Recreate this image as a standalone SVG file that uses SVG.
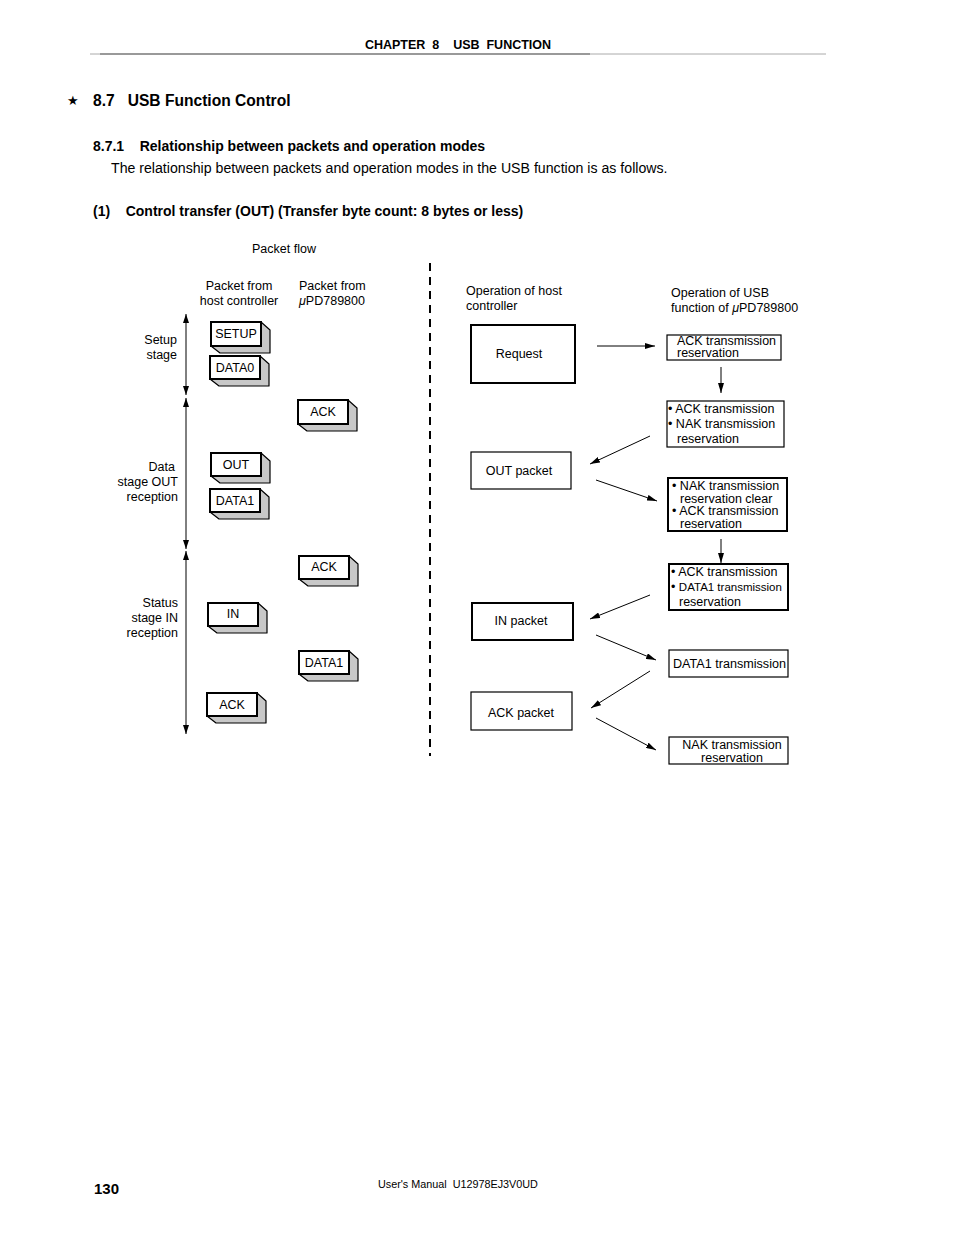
<svg xmlns="http://www.w3.org/2000/svg" width="954" height="1235" viewBox="0 0 954 1235">
<defs>
<style>
text{font-family:"Liberation Sans",Arial,sans-serif;fill:#000;white-space:pre}
.t{font-size:12.5px}
.b{font-weight:bold}
.front{fill:#fff;stroke:#000;stroke-width:2}
.side{fill:#c8c8c8;stroke:#000;stroke-width:1.2;stroke-linejoin:round}
.box{fill:#fff;stroke:#000;stroke-width:1.2}
.thick{fill:#fff;stroke:#000;stroke-width:2}
.ln{stroke:#000;stroke-width:1;fill:none}
</style>
<marker id="ah" viewBox="0 0 10 6" refX="10" refY="3" markerWidth="10" markerHeight="6" markerUnits="userSpaceOnUse" orient="auto">
<path d="M0,0 L10,3 L0,6 Z" fill="#000"/>
</marker>
<marker id="vh" viewBox="0 0 9 6" refX="9" refY="3" markerWidth="9" markerHeight="6" markerUnits="userSpaceOnUse" orient="auto-start-reverse">
<path d="M0,0 L9,3 L0,6 Z" fill="#000"/>
</marker>
</defs>
<rect width="954" height="1235" fill="#fff"/>

<!-- header -->
<text x="458" y="49" text-anchor="middle" class="b" font-size="12.5" xml:space="preserve">CHAPTER  8    USB  FUNCTION</text>
<line x1="90" y1="54" x2="826" y2="54" stroke="#aaa" stroke-width="1"/>
<line x1="100" y1="54" x2="590" y2="54" stroke="#999" stroke-width="2"/>

<text x="67" y="105" font-size="13">★</text>
<text x="93" y="106" class="b" font-size="15.6" xml:space="preserve">8.7   USB Function Control</text>
<text x="93" y="151" class="b" font-size="14" xml:space="preserve">8.7.1    Relationship between packets and operation modes</text>
<text x="111" y="173" font-size="14.15">The relationship between packets and operation modes in the USB function is as follows.</text>
<text x="93" y="216" class="b" font-size="14" xml:space="preserve">(1)    Control transfer (OUT) (Transfer byte count: 8 bytes or less)</text>

<!-- column labels -->
<g id="labels" class="t">
<text x="284" y="253" text-anchor="middle" class="t">Packet flow</text>
<text x="239" y="290" text-anchor="middle" class="t">Packet from</text>
<text x="239" y="305" text-anchor="middle" class="t">host controller</text>
<text x="299" y="290" class="t">Packet from</text>
<text x="299" y="305" class="t"><tspan font-style="italic">μ</tspan>PD789800</text>
<text x="177" y="344" text-anchor="end" class="t">Setup</text>
<text x="177" y="359" text-anchor="end" class="t">stage</text>
<text x="175" y="471" text-anchor="end" class="t">Data</text>
<text x="178" y="486" text-anchor="end" class="t">stage OUT</text>
<text x="178" y="501" text-anchor="end" class="t">reception</text>
<text x="178" y="607" text-anchor="end" class="t">Status</text>
<text x="178" y="622" text-anchor="end" class="t">stage IN</text>
<text x="178" y="637" text-anchor="end" class="t">reception</text>
<text x="466" y="295" class="t">Operation of host</text>
<text x="466" y="310" class="t">controller</text>
<text x="671" y="297" class="t">Operation of USB</text>
<text x="671" y="312" class="t">function of <tspan font-style="italic">μ</tspan>PD789800</text>
</g>

<!-- stage arrows and divider -->
<g id="connectors">
<line class="ln" x1="186" y1="314" x2="186" y2="395" marker-start="url(#vh)" marker-end="url(#vh)"/>
<line class="ln" x1="186" y1="398" x2="186" y2="549" marker-start="url(#vh)" marker-end="url(#vh)"/>
<line class="ln" x1="186" y1="551" x2="186" y2="734" marker-start="url(#vh)" marker-end="url(#vh)"/>
<line x1="430" y1="263" x2="430" y2="756" stroke="#000" stroke-width="2" stroke-dasharray="8,6"/>

<line class="ln" x1="597" y1="346" x2="655" y2="346" marker-end="url(#ah)"/>
<line class="ln" x1="721" y1="367" x2="721" y2="393" marker-end="url(#ah)"/>
<line class="ln" x1="650" y1="436" x2="590" y2="464" marker-end="url(#ah)"/>
<line class="ln" x1="596" y1="480" x2="657" y2="501" marker-end="url(#ah)"/>
<line class="ln" x1="721" y1="539" x2="721" y2="563" marker-end="url(#ah)"/>
<line class="ln" x1="650" y1="595" x2="590" y2="619" marker-end="url(#ah)"/>
<line class="ln" x1="596" y1="635" x2="656" y2="660" marker-end="url(#ah)"/>
<line class="ln" x1="650" y1="671" x2="591" y2="708" marker-end="url(#ah)"/>
<line class="ln" x1="596" y1="718" x2="656" y2="750" marker-end="url(#ah)"/>
</g>

<!-- packet boxes (3D) -->
<g id="pk-setup">
<path class="side" d="M261,322 L270,330 L270,353 L220,353 L211,346 L261,346 Z"/>
<rect class="front" x="211" y="322" width="50" height="24"/>
<text x="236" y="338" text-anchor="middle" class="t">SETUP</text>
</g>
<g id="pk-data0">
<path class="side" d="M260,356 L269,364 L269,386 L219,386 L210,379 L260,379 Z"/>
<rect class="front" x="210" y="356" width="50" height="23"/>
<text x="235" y="372" text-anchor="middle" class="t">DATA0</text>
</g>
<g id="pk-ack1">
<path class="side" d="M348,400 L357,408 L357,431 L307,431 L298,424 L348,424 Z"/>
<rect class="front" x="298" y="400" width="50" height="24"/>
<text x="323" y="416" text-anchor="middle" class="t">ACK</text>
</g>
<g id="pk-out">
<path class="side" d="M261,453 L270,461 L270,483 L220,483 L211,476 L261,476 Z"/>
<rect class="front" x="211" y="453" width="50" height="23"/>
<text x="236" y="469" text-anchor="middle" class="t">OUT</text>
</g>
<g id="pk-data1a">
<path class="side" d="M260,489 L269,497 L269,519 L219,519 L210,512 L260,512 Z"/>
<rect class="front" x="210" y="489" width="50" height="23"/>
<text x="235" y="505" text-anchor="middle" class="t">DATA1</text>
</g>
<g id="pk-ack2">
<path class="side" d="M349,556 L358,564 L358,586 L308,586 L299,579 L349,579 Z"/>
<rect class="front" x="299" y="556" width="50" height="23"/>
<text x="324" y="571" text-anchor="middle" class="t">ACK</text>
</g>
<g id="pk-in">
<path class="side" d="M258,603 L267,611 L267,633 L217,633 L208,626 L258,626 Z"/>
<rect class="front" x="208" y="603" width="50" height="23"/>
<text x="233" y="618" text-anchor="middle" class="t">IN</text>
</g>
<g id="pk-data1b">
<path class="side" d="M349,651 L358,659 L358,681 L308,681 L299,674 L349,674 Z"/>
<rect class="front" x="299" y="651" width="50" height="23"/>
<text x="324" y="667" text-anchor="middle" class="t">DATA1</text>
</g>
<g id="pk-ack3">
<path class="side" d="M257,693 L266,701 L266,723 L216,723 L207,716 L257,716 Z"/>
<rect class="front" x="207" y="693" width="50" height="23"/>
<text x="232" y="709" text-anchor="middle" class="t">ACK</text>
</g>

<!-- host operations -->
<g id="h-request">
<rect class="thick" x="471" y="325" width="104" height="58"/>
<text x="519" y="358" text-anchor="middle" class="t">Request</text>
</g>
<g id="h-out">
<rect class="box" x="471" y="452" width="100" height="37" stroke-width="1.5"/>
<text x="519" y="475" text-anchor="middle" class="t">OUT packet</text>
</g>
<g id="h-in">
<rect class="thick" x="472" y="603" width="101" height="37"/>
<text x="521" y="625" text-anchor="middle" class="t">IN packet</text>
</g>
<g id="h-ack">
<rect class="box" x="471" y="692" width="101" height="38" stroke-width="1.5"/>
<text x="521" y="717" text-anchor="middle" class="t">ACK packet</text>
</g>

<!-- device operations -->
<g id="d-ackres">
<rect class="box" x="667" y="335" width="114" height="25" stroke-width="1.5"/>
<text x="677" y="345" class="t" textLength="99" lengthAdjust="spacingAndGlyphs">ACK transmission</text>
<text x="677" y="357" class="t">reservation</text>
</g>
<g id="d-acknak">
<rect class="box" x="667" y="401" width="117" height="46" stroke-width="1.5"/>
<text x="668" y="413" class="t">• ACK transmission</text>
<text x="668" y="428" class="t">• NAK transmission</text>
<text x="677" y="443" class="t">reservation</text>
</g>
<g id="d-nakclr">
<rect class="thick" x="668" y="478" width="119" height="53"/>
<text x="672" y="490" class="t">• NAK transmission</text>
<text x="680" y="503" class="t">reservation clear</text>
<text x="672" y="515" class="t">• ACK transmission</text>
<text x="680" y="528" class="t">reservation</text>
</g>
<g id="d-ackdata">
<rect class="thick" x="669" y="564" width="119" height="46"/>
<text x="671" y="576" class="t">• ACK transmission</text>
<text x="671" y="591" class="t">• <tspan font-size="11.5" textLength="103" lengthAdjust="spacingAndGlyphs">DATA1 transmission</tspan></text>
<text x="679" y="606" class="t">reservation</text>
</g>
<g id="d-data1">
<rect class="box" x="669" y="650" width="119" height="27"/>
<text x="673" y="668" class="t" textLength="113" lengthAdjust="spacingAndGlyphs">DATA1 transmission</text>
</g>
<g id="d-nakres">
<rect class="box" x="669" y="737" width="119" height="27"/>
<text x="732" y="749" text-anchor="middle" class="t">NAK transmission</text>
<text x="732" y="762" text-anchor="middle" class="t">reservation</text>
</g>

<!-- footer -->
<text x="94" y="1194" class="b" font-size="15">130</text>
<text x="378" y="1188" font-size="10.8" xml:space="preserve">User's Manual  U12978EJ3V0UD</text>
</svg>
